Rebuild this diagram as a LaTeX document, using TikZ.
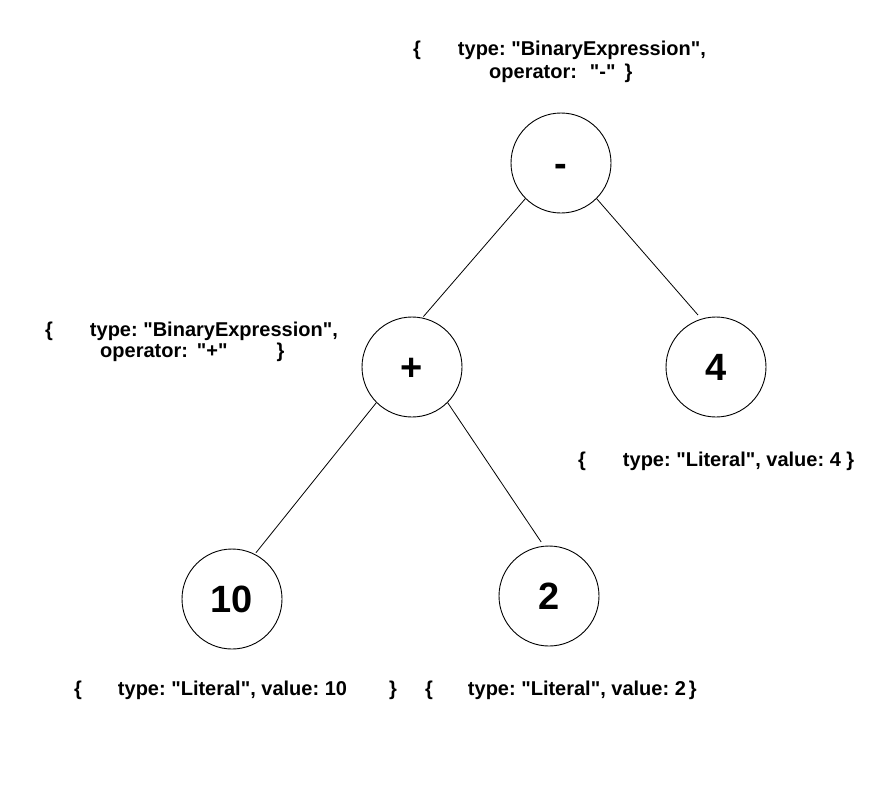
\documentclass[tikz,border=0pt]{standalone}
\usepackage{fontspec}
\setmainfont{Liberation Sans}[Ligatures=TeXOff]
\usepackage{xcolor}
\usepackage{tikz}
\usetikzlibrary{calc}
\usetikzlibrary{positioning}
\frenchspacing

\begin{document}
\begin{tikzpicture}[x=1pt,y=-1pt]
% 1 = 1px of the reference
    \def\RADIUS{50pt}
    \def\GAP{37pt} %gap after the opening brace

    \tikzset{
      treenode/.style={circle,draw,line width=0.9pt,inner sep=0pt,
        minimum size=2*\RADIUS,text height=27.2pt,text depth=0pt,
        font=\fontsize{38}{40}\selectfont\bfseries},
      info/.style={anchor=base west,inner sep=0pt,
        font=\fontsize{20}{24}\selectfont\bfseries},
      branch/.style={line width=0.8pt},
    }

    \useasboundingbox (0,0) rectangle (877,796);

    % TREE NODES
    \node[treenode] (minus) at (561,163) {-};
    \node[treenode] (plus) at (412,367) {+};
    \node[treenode] (four) at (716,367) {4};
    \node[treenode] (ten) at (232,599) {10};
    \node[treenode] (two) at (549,596) {2};

    % BRANCHES
    \draw[branch,shorten >=1.4pt] (minus.225) -- (plus.78);
    \draw[branch,shorten >=5pt] (minus.315) -- (four.107);
    \draw[branch,shorten >=1.7pt] (plus.225) -- (ten.63);
    \draw[branch,shorten >=4.6pt] (plus.315) -- (two.96);

    % LABEL OF THE ROOT
    \node[info] (minusinfoa) at (413,55)
        {\{\hspace{\GAP}type: "BinaryExpression",};
    \node[info] (minusinfob) at (489,78)
        {operator:\hspace{13pt}"-"\hspace{9pt}\}};

    % LABEL OF THE SUM
    \node[info] (plusinfoa) at (45,336)
        {\{\hspace{\GAP}type: "BinaryExpression",};
    \node[info] (plusinfob) at (100,357)
        {operator:\hspace{9pt}"+"\hspace{49pt}\}};

    % LABELS OF THE LITERALS
    \node[info] (fourinfo) at (578,466)
        {\{\hspace{\GAP}type: "Literal", value: 4 \}};
    \node[info] (teninfo) at (74,695)
        {\{\hspace{36pt}type: "Literal", value: 10\hspace{42pt}\}};
    \node[info] (twoinfo) at (425,695)
        {\{\hspace{35pt}type: "Literal", value: 2\hspace{3pt}\}};

\end{tikzpicture}
\end{document}
